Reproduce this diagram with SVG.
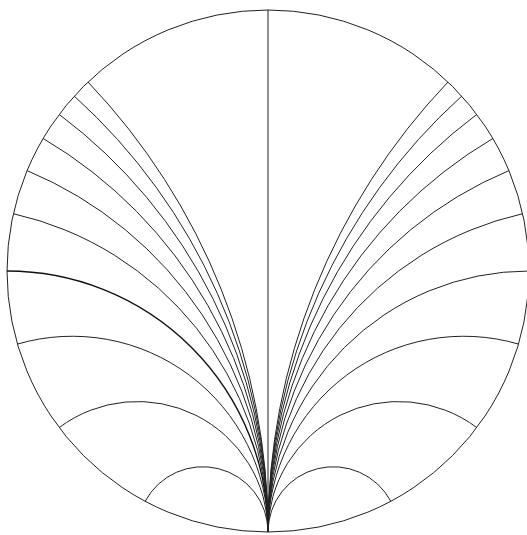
<svg xmlns="http://www.w3.org/2000/svg" width="527" height="535" viewBox="0 0 527 535">
<style>
.g{fill:none;stroke:#222;stroke-width:1}
.d{stroke:#111;stroke-width:1.4}
</style>
<rect width="527" height="535" fill="#fff"/>
<g id="disk"><circle class="g" cx="268" cy="271" r="261"/></g>
<g id="geodesics">
<line class="g" x1="268" y1="10" x2="268" y2="532"/>
<path class="g" d="M268 532 A65.25 65.25 0 0 0 145.18 501.29"/>
<path class="g" d="M268 532 A130.5 130.5 0 0 0 59.2 427.6"/>
<path class="g" d="M268 532 A195.75 195.75 0 0 0 17.44 344.08"/>
<path class="g d" d="M268 532 A261 261 0 0 0 7 271"/>
<path class="g" d="M268 532 A326.25 326.25 0 0 0 13.37 213.71"/>
<path class="g" d="M268 532 A391.5 391.5 0 0 0 27.08 170.62"/>
<path class="g" d="M268 532 A456.75 456.75 0 0 0 43.14 138.49"/>
<path class="g" d="M268 532 A522 522 0 0 0 59.2 114.4"/>
<path class="g" d="M268 532 A587.25 587.25 0 0 0 74.27 96.1"/>
<path class="g" d="M268 532 A652.5 652.5 0 0 0 88 82"/>
<path class="g" d="M268 532 A65.25 65.25 0 0 1 390.82 501.29"/>
<path class="g" d="M268 532 A130.5 130.5 0 0 1 476.8 427.6"/>
<path class="g" d="M268 532 A195.75 195.75 0 0 1 518.56 344.08"/>
<path class="g" d="M268 532 A261 261 0 0 1 529 271"/>
<path class="g" d="M268 532 A326.25 326.25 0 0 1 522.63 213.71"/>
<path class="g" d="M268 532 A391.5 391.5 0 0 1 508.92 170.62"/>
<path class="g" d="M268 532 A456.75 456.75 0 0 1 492.86 138.49"/>
<path class="g" d="M268 532 A522 522 0 0 1 476.8 114.4"/>
<path class="g" d="M268 532 A587.25 587.25 0 0 1 461.73 96.1"/>
<path class="g" d="M268 532 A652.5 652.5 0 0 1 448 82"/>
</g>
</svg>
